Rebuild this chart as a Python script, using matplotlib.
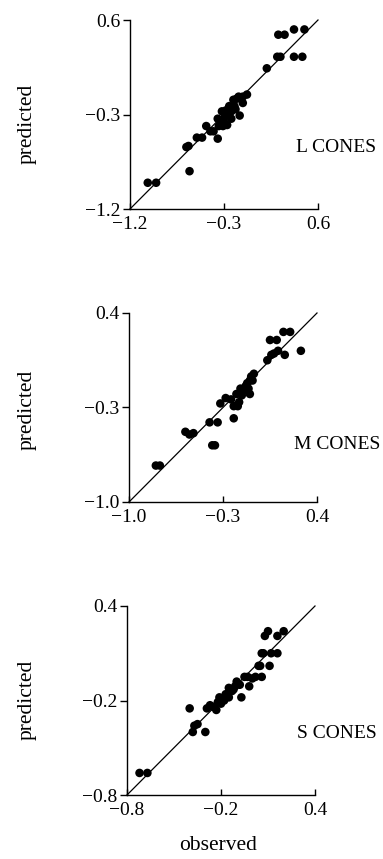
import matplotlib
matplotlib.use("Agg")
import matplotlib.pyplot as plt

plt.rcParams['font.family'] = ['Liberation Serif', 'DejaVu Serif']

# ---- data ----
L_obs = [-1.03, -0.95, -0.63, -0.66, -0.64, -0.56, -0.51, -0.47, -0.43, -0.40,
         -0.36, -0.35, -0.31, -0.27, -0.31, -0.32, -0.28, -0.26, -0.23, -0.23,
         -0.20, -0.21, -0.18, -0.15, -0.16, -0.12, -0.08, -0.12, -0.29, -0.36,
         -0.30, -0.25, -0.19,
         0.11, 0.21, 0.24, 0.22, 0.28, 0.37, 0.47, 0.37, 0.45]
L_pred = [-0.95, -0.95, -0.84, -0.61, -0.60, -0.52, -0.52, -0.41, -0.46, -0.46,
          -0.53, -0.41, -0.41, -0.40, -0.35, -0.27, -0.26, -0.31, -0.34, -0.27,
          -0.22, -0.16, -0.15, -0.31, -0.13, -0.13, -0.11, -0.19, -0.31, -0.34,
          -0.37, -0.22, -0.25,
          0.14, 0.25, 0.25, 0.46, 0.46, 0.51, 0.51, 0.25, 0.25]

M_obs = [-0.80, -0.77, -0.38, -0.36, -0.58, -0.55, -0.52, -0.40, -0.34, -0.22,
         -0.32, -0.28, -0.22, -0.19, -0.24, -0.20, -0.17, -0.16, -0.14, -0.12,
         -0.10, -0.09, -0.07, -0.08, -0.11, -0.10, -0.13, -0.18,
         0.03, 0.06, 0.08, 0.05, 0.10, 0.11, 0.16, 0.15, 0.20, 0.28]
M_pred = [-0.73, -0.73, -0.58, -0.58, -0.48, -0.50, -0.49, -0.41, -0.41, -0.38,
          -0.27, -0.23, -0.29, -0.29, -0.24, -0.20, -0.16, -0.21, -0.17, -0.12,
          -0.10, -0.07, -0.05, -0.10, -0.16, -0.20, -0.14, -0.26,
          0.05, 0.09, 0.10, 0.20, 0.20, 0.12, 0.09, 0.26, 0.26, 0.12]

S_obs = [-0.72, -0.67, -0.40, -0.38, -0.37, -0.35, -0.30, -0.29, -0.27, -0.25,
         -0.23, -0.22, -0.21, -0.18, -0.17, -0.15, -0.15, -0.13, -0.11, -0.10,
         -0.08, -0.07, -0.05, -0.03, -0.02, 0.00, 0.02, 0.06, 0.04, 0.05,
         -0.20, -0.12,
         0.11, 0.06, 0.07, 0.12, 0.16, 0.08, 0.10, 0.16, 0.20]
S_pred = [-0.66, -0.66, -0.25, -0.40, -0.36, -0.35, -0.40, -0.25, -0.23, -0.24,
          -0.26, -0.21, -0.18, -0.20, -0.16, -0.18, -0.12, -0.14, -0.11, -0.08,
          -0.10, -0.18, -0.05, -0.05, -0.11, -0.06, -0.05, -0.05, 0.02, 0.02,
          -0.22, -0.13,
          0.02, 0.10, 0.10, 0.10, 0.10, 0.21, 0.24, 0.21, 0.24]

panels = [
    ("L CONES", L_obs, L_pred, [-1.2, -0.3, 0.6], ["\u22121.2", "\u22120.3", "0.6"]),
    ("M CONES", M_obs, M_pred, [-1.0, -0.3, 0.4], ["\u22121.0", "\u22120.3", "0.4"]),
    ("S CONES", S_obs, S_pred, [-0.8, -0.2, 0.4], ["\u22120.8", "\u22120.2", "0.4"]),
]

W, H = 383, 859
fig = plt.figure(figsize=(W / 100, H / 100), dpi=100)

# axes boxes in pixels: left, top, right, bottom
boxes = [(130, 20, 318, 209), (129, 313, 317, 502), (127, 606, 315, 795)]
label_pos = [(0.885, 0.324), (0.877, 0.302), (0.904, 0.326)]
pred_y = [124, 410, 700]

for (name, xo, yp, ticks, tlabels), (l, t, r, b), lp, py in zip(panels, boxes, label_pos, pred_y):
    ax = fig.add_axes([l / W, 1 - b / H, (r - l) / W, (b - t) / H])
    lo, hi = ticks[0], ticks[-1]
    ax.set_xlim(lo, hi)
    ax.set_ylim(lo, hi)
    ax.plot([lo, hi], [lo, hi], color='black', lw=0.9, clip_on=False)
    ax.scatter(xo, yp, s=38, color='black', edgecolors='none', clip_on=False, zorder=3)
    ax.spines['top'].set_visible(False)
    ax.spines['right'].set_visible(False)
    for sp in ('left', 'bottom'):
        ax.spines[sp].set_linewidth(1.0)
    ax.set_xticks(ticks)
    ax.set_yticks(ticks)
    ax.set_xticklabels(tlabels)
    ax.set_yticklabels(tlabels)
    ax.tick_params(axis='x', direction='in', length=4, width=1, pad=5, labelsize=14)
    ax.tick_params(axis='y', direction='out', length=5, width=1, pad=2, labelsize=14)
    ax.text(lp[0], lp[1], name, transform=ax.transAxes, ha='left', va='center',
            fontsize=14)
    fig.text(27 / W, 1 - py / H, "predicted", rotation=90, ha='center', va='center',
             fontsize=15.5)

fig.text(218 / W, 1 - 846 / H, "observed", ha='center', va='center', fontsize=15.5)

fig.savefig("out.png", dpi=100)
